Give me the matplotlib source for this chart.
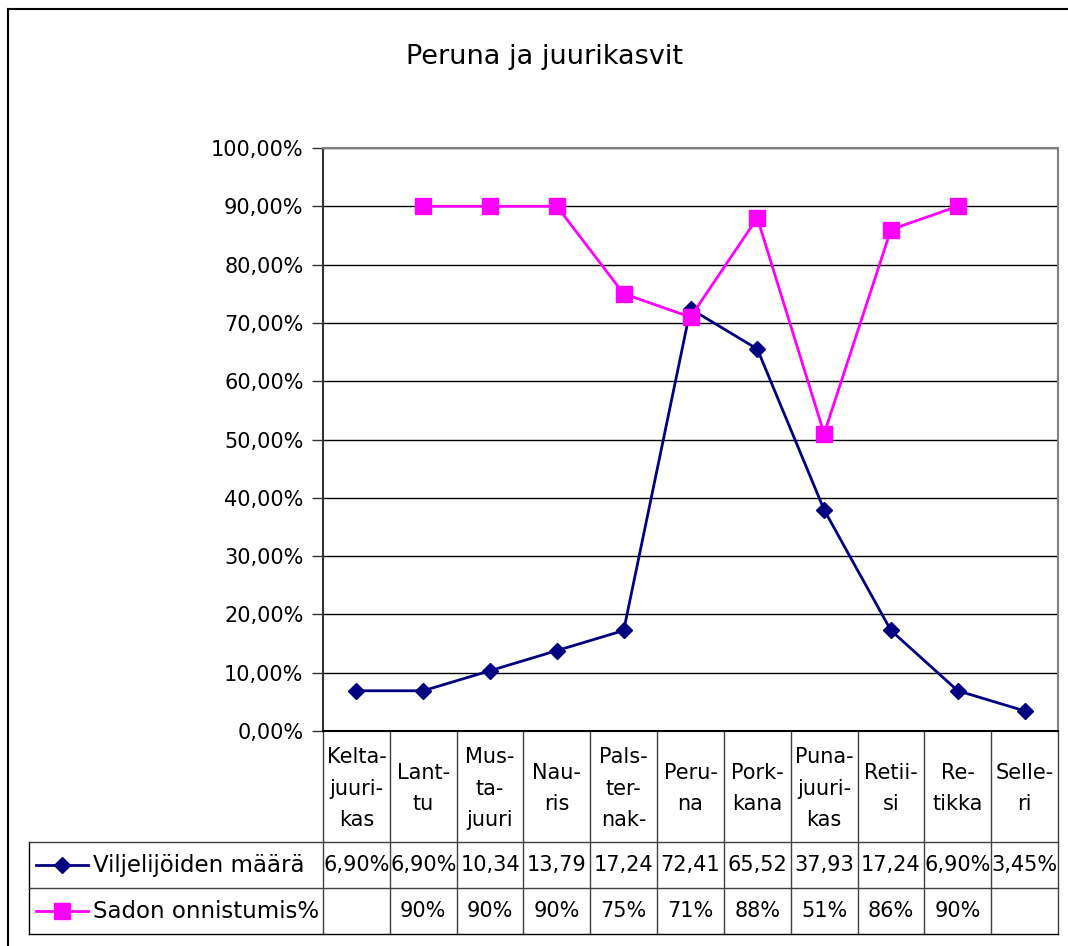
#importing the required libraries
import numpy as np
from matplotlib import pyplot as plt
from matplotlib.ticker import FuncFormatter, MultipleLocator

# data
categories = ["Kelta-\njuuri-\nkas", "Lant-\ntu", "Mus-\nta-\njuuri", "Nau-\nris",
              "Pals-\nter-\nnak-", "Peru-\nna", "Pork-\nkana", "Puna-\njuuri-\nkas",
              "Retii-\nsi", "Re-\ntikka", "Selle-\nri"]
viljelijat = [6.90, 6.90, 10.34, 13.79, 17.24, 72.41, 65.52, 37.93, 17.24, 6.90, 3.45]
sadon = [np.nan, 90, 90, 90, 75, 71, 88, 51, 86, 90, np.nan]
series_names = ["Viljelijöiden määrä", "Sadon onnistumis%"]
title = "Peruna ja juurikasvit"

W, H = 1068, 946
plt.rcParams['font.family'] = ['DejaVu Sans']
fig = plt.figure(figsize=(W / 100, H / 100), dpi=100)

# full figure overlay in pixel coordinates, for frame and data table
bg = fig.add_axes([0, 0, 1, 1])
bg.set_xlim(0, W)
bg.set_ylim(H, 0)
bg.axis('off')

# plot area position (pixels)
left, right, top, bottom = 323, 1058, 148, 731
ax = fig.add_axes([left / W, 1 - bottom / H, (right - left) / W, (bottom - top) / H])

x = np.arange(len(categories))
ax.plot(x, viljelijat, color='#000080', marker='D', markersize=8, linewidth=2)
ax.plot(x, sadon, color='#FF00FF', marker='s', markersize=11, linewidth=2)

ax.set_xlim(-0.5, len(categories) - 0.5)
ax.set_ylim(0, 100)
ax.yaxis.set_major_locator(MultipleLocator(10))
ax.yaxis.set_major_formatter(FuncFormatter(lambda v, p: f"{v:.2f}%".replace('.', ',')))
ax.grid(axis='y', color='black', linewidth=1)
ax.set_axisbelow(True)
ax.set_xticks([])
ax.tick_params(axis='y', direction='out', length=8, width=1, labelsize=15, pad=6, color='#333333')
for s in ['top', 'right']:
    ax.spines[s].set_color('#808080')
    ax.spines[s].set_linewidth(1.5)
ax.spines['left'].set_color('#333333')
ax.spines['left'].set_linewidth(1.5)
ax.spines['bottom'].set_color('black')
ax.spines['bottom'].set_linewidth(1.5)

# title
bg.text(544, 57, title, ha='center', va='center', fontsize=19.5)

# outer chart frame (cropped at right and bottom)
bg.plot([8, W], [9, 9], color='black', linewidth=1.5)
bg.plot([8, 8], [9, H], color='black', linewidth=1.5)

# data table
cell_w = (right - left) / len(categories)
row1, row2, row3 = 842, 888, 934
leg_left = 29
for i in range(len(categories) + 1):
    xl = left + i * cell_w
    bg.plot([xl, xl], [bottom, row3], color='#404040', linewidth=1)
bg.plot([leg_left, leg_left], [row1, row3], color='black', linewidth=1)
bg.plot([leg_left, right], [row1, row1], color='#404040', linewidth=1)
bg.plot([leg_left, right], [row2, row2], color='#404040', linewidth=1)
bg.plot([leg_left, right], [row3, row3], color='black', linewidth=1)

for i, cat in enumerate(categories):
    cx = left + (i + 0.5) * cell_w
    bg.text(cx, (bottom + row1) / 2 + 2, cat, ha='center', va='center', fontsize=15,
            linespacing=1.72)
    v = viljelijat[i]
    bg.text(cx, (row1 + row2) / 2, f"{v:.2f}%".replace('.', ',')[:5],
            ha='center', va='center', fontsize=15)
    s = sadon[i]
    if not np.isnan(s):
        bg.text(cx, (row2 + row3) / 2, f"{s:.0f}%", ha='center', va='center', fontsize=15)

# legend keys inside the table
styles = [dict(color='#000080', marker='D', markersize=8),
          dict(color='#FF00FF', marker='s', markersize=11)]
for name, st, ry in zip(series_names, styles, [(row1 + row2) / 2, (row2 + row3) / 2]):
    bg.plot([36, 88], [ry, ry], linewidth=2, color=st['color'])
    bg.plot([62], [ry], linestyle='none', **st)
    bg.text(93, ry, name, ha='left', va='center', fontsize=16.5)

fig.savefig("out.png", dpi=100)
